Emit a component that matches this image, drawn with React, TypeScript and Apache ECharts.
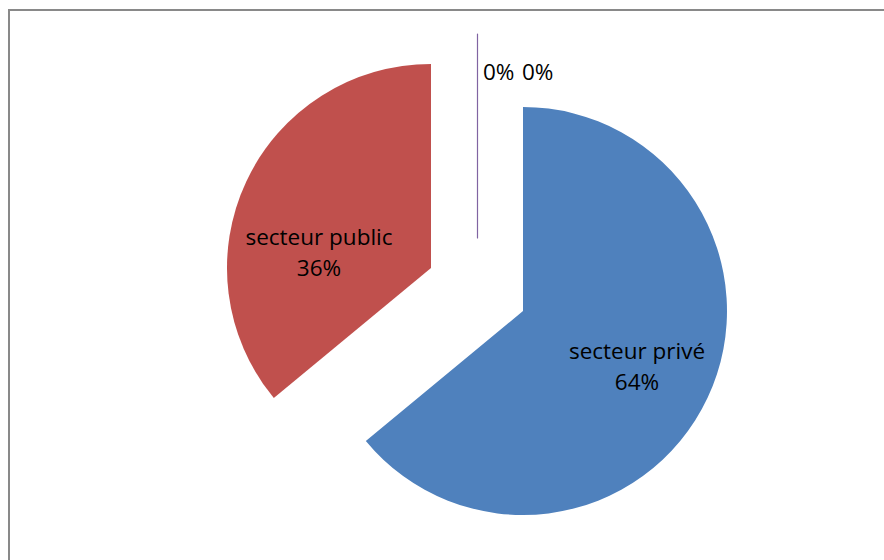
import React, { useEffect, useRef } from "react";
import * as echarts from "echarts";

const categories = ["secteur privé", "secteur public", "autre 1", "autre 2"];
const values = [64, 36, 0, 0];
const colors = ["#4F81BD", "#C0504D", "#9BBB59", "#8064A2"];

const FONT = "'Open Sans', 'Noto Sans', sans-serif";

function buildData(visible: number[], stroked: number[] = []) {
  return categories.map((name, i) => {
    const show = visible.includes(i);
    const stroke = stroked.includes(i);
    return {
      name,
      value: values[i],
      itemStyle: show
        ? { color: colors[i], borderColor: stroke ? colors[i] : "transparent", borderWidth: stroke ? 1.2 : 0 }
        : { color: "transparent", borderColor: "transparent", borderWidth: 0 },
      label: { show },
    };
  });
}

export default function App() {
  const ref = useRef<HTMLDivElement>(null);
  useEffect(() => {
    if (!ref.current) return;
    const chart = echarts.init(ref.current, null, { renderer: "svg" });
    const labelBase = {
      color: "#000",
      fontFamily: FONT,
      fontSize: 22.5,
      lineHeight: 31,
      formatter: "{b}\n{d}%",
    };
    chart.setOption({
      animation: false,
      backgroundColor: "#fff",
      graphic: [
        {
          type: "rect",
          shape: { x: 9, y: 10, width: 1000, height: 1000 },
          style: { fill: "none", stroke: "#898989", lineWidth: 2 },
          silent: true,
        },
      ],
      series: [
        {
          type: "pie",
          center: [523, 311],
          radius: [0, 204],
          startAngle: 90,
          clockwise: true,
          silent: true,
          label: { ...labelBase, position: "inside" },
          labelLine: { show: false },
          labelLayout: { dx: 19, dy: 10 },
          data: buildData([0]),
        },
        {
          type: "pie",
          center: [431, 268],
          radius: [0, 204],
          startAngle: 90,
          clockwise: true,
          silent: true,
          label: { ...labelBase, position: "inside" },
          labelLine: { show: false },
          labelLayout: { dx: -17, dy: 29 },
          data: buildData([1]),
        },
        {
          type: "pie",
          center: [477.5, 238],
          radius: [0, 204],
          startAngle: 90,
          clockwise: true,
          silent: true,
          label: {
            color: "#000",
            fontFamily: FONT,
            fontSize: 22.5,
            position: "inside",
            formatter: "{d}%",
          },
          labelLine: { show: false },
          labelLayout: (p: any) => ({
            x: p.dataIndex === 2 ? 483 : 522,
            y: 71,
            align: "left",
            verticalAlign: "middle",
          }),
          data: buildData([2, 3], [3]),
        },
      ],
    });
    return () => chart.dispose();
  }, []);
  return (
    <div
      ref={ref}
      style={{ position: "fixed", left: 0, top: 0, width: 884, height: 560 }}
    />
  );
}
